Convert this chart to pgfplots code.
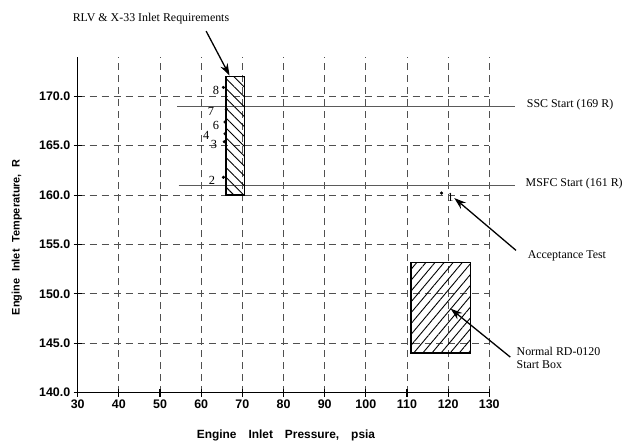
\documentclass[border=0pt]{standalone}
\usepackage{pgfplots}
\pgfplotsset{compat=1.18}
\usepackage{fontspec}
\setmainfont{Liberation Serif}
\setsansfont{Liberation Sans}
\usetikzlibrary{patterns.meta,arrows.meta}
\definecolor{gridc}{RGB}{80,80,80}
\definecolor{refc}{RGB}{90,90,90}
\begin{document}
\begin{tikzpicture}
\begin{axis}[
  at={(0,0)}, anchor=south west,
  scale only axis, width=413bp, height=337bp,
  xmin=30, xmax=130, ymin=140, ymax=174,
  axis x line=bottom, axis y line=left,
  axis line style={-, line width=1.4pt, black},
  xtick={30,40,...,130}, ytick={140,145,...,170},
  tick align=center, major tick length=8bp,
  tick style={line width=1.1pt, black},
  grid=major,
  major grid style={dash pattern=on 7bp off 5bp, gridc, line width=0.9pt},
  /pgf/number format/assume math mode=true,
  ticklabel style={font=\sffamily\bfseries\fontsize{12.5}{14}\selectfont},
  yticklabel style={/pgf/number format/.cd, fixed, fixed zerofill, precision=1},
  xticklabel style={/pgf/number format/.cd, fixed, precision=0},
  xlabel={Engine\hspace{12bp}Inlet\hspace{12bp}Pressure,\hspace{12bp}psia},
  ylabel={Engine\hspace{7bp}Inlet\hspace{7bp}Temperature,\hspace{7bp}R},
  xlabel style={font=\sffamily\bfseries\fontsize{12}{14}\selectfont, at={(axis description cs:0.506,-0.128)}, anchor=center},
  ylabel style={font=\sffamily\bfseries\fontsize{11}{13}\selectfont, at={(axis description cs:-0.148,0.463)}, anchor=center, rotate=0},
  clip=false,
]
% reference lines
\addplot[refc, line width=1.1pt] coordinates {(54.2,169) (136.3,169)};
\addplot[refc, line width=1.1pt] coordinates {(54.5,161) (136.3,161)};
% RLV & X-33 box
\addplot[black, line width=1.5pt, pattern={Lines[angle=-45,distance=7bp,line width=0.9bp]}]
  coordinates {(66,160) (70.5,160) (70.5,172) (66,172) (66,160)} -- cycle;
% Normal RD-0120 start box
\addplot[black, line width=1.5pt, pattern={Lines[angle=50,distance=7bp,line width=0.9bp]}]
  coordinates {(111,144) (125.4,144) (125.4,153.2) (111,153.2) (111,144)} -- cycle;
% test points
\addplot[only marks, mark=*, mark size=1.4pt, black] coordinates {
  (65.4,170.9) (66.1,168.7) (65.8,167.4) (65.8,166.2) (65.6,165.4) (65.4,161.8) (118.4,160.2)};
% point labels
\node[font=\fontsize{12.5}{12}\selectfont] at (axis cs:63.6,170.6) {8};
\node[font=\fontsize{12.5}{12}\selectfont] at (axis cs:62.4,168.5) {7};
\node[font=\fontsize{12.5}{12}\selectfont] at (axis cs:63.6,167.1) {6};
\node[font=\fontsize{12.5}{12}\selectfont] at (axis cs:61.2,166.0) {4};
\node[font=\fontsize{12.5}{12}\selectfont] at (axis cs:63.1,165.1) {3};
\node[font=\fontsize{12.5}{12}\selectfont] at (axis cs:62.6,161.5) {2};
\node[font=\fontsize{12.5}{12}\selectfont] at (axis cs:120.6,159.8) {1};
% annotation texts
\node[font=\fontsize{12}{14}\selectfont, anchor=west] at (axis cs:138.3,169.2) {SSC Start (169 R)};
\node[font=\fontsize{12}{14}\selectfont, anchor=west] at (axis cs:138.0,161.2) {MSFC Start (161 R)};
\node[font=\fontsize{12}{14}\selectfont, anchor=west] at (axis cs:138.5,153.8) {Acceptance Test};
\node[font=\fontsize{12}{13.5}\selectfont, anchor=west, align=left] at (axis cs:135.8,143.5) {Normal RD-0120\\Start Box};
\node[font=\fontsize{12}{14}\selectfont] at (axis cs:47.8,177.9) {RLV \& X-33 Inlet Requirements};
% arrows
\draw[line width=1.3pt, -{Stealth[length=12bp,width=8bp]}] (axis cs:61.2,176.6) -- (axis cs:66.9,172.1);
\draw[line width=1.3pt, -{Stealth[length=12bp,width=8bp]}] (axis cs:136.5,154.4) -- (axis cs:121.5,159.7);
\draw[line width=1.3pt, -{Stealth[length=12bp,width=8bp]}] (axis cs:135.1,143.6) -- (axis cs:120.6,148.5);
\end{axis}
\path[use as bounding box] (-78bp,-51bp) rectangle (548bp,394bp);
\end{tikzpicture}
\end{document}
